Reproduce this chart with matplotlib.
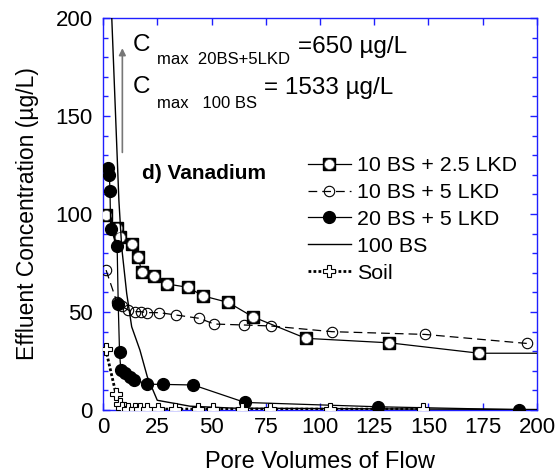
import matplotlib
matplotlib.use('Agg')
import matplotlib.pyplot as plt
from matplotlib.ticker import MultipleLocator

plt.rcParams['font.family'] = ['Liberation Sans', 'DejaVu Sans']

# 10 BS + 2.5 LKD
x_a = [1.4, 6.3, 7.8, 13.2, 16.3, 17.8, 23.5, 29.6, 39.3, 45.9, 57.7, 69, 93.5, 132, 173.4, 200]
y_a = [99.5, 92.7, 88.5, 84.7, 78, 70.3, 68.2, 64.3, 62.6, 58.3, 54.9, 47.6, 36.6, 34.3, 29, 29]
# 10 BS + 5 LKD
x_b = [1.4, 6.3, 8.6, 11.7, 14.7, 17.4, 20.4, 26, 33.6, 44.4, 51.2, 65, 77.3, 105.5, 148.4, 195.3]
y_b = [71.4, 55.3, 53, 51, 50.2, 50.2, 49.7, 49.7, 48.5, 46.8, 43.9, 43.4, 42.9, 40, 38.6, 34]
# 20 BS + 5 LKD
x_c = [2.5, 2.9, 3.2, 3.5, 6.5, 7.0, 7.6, 8.2, 10.1, 12.4, 14.4, 20.3, 27.7, 41.6, 65.4, 126.6, 191.8]
y_c = [123.5, 120, 112, 92.5, 83.5, 54, 29.5, 20.4, 18.7, 17, 15.6, 13.2, 13.1, 12.8, 3.9, 1.7, 0.2]
# 100 BS
x_d = [3.6, 7.3, 8.6, 10.9, 13.2, 17, 20.4, 25, 40, 60, 100, 150, 200]
y_d = [212, 107, 83, 59.5, 42.5, 30.6, 17, 5, 2, 1, 0.8, 0.5, 0.3]
# Soil
x_e = [1.2, 6, 7.8, 8.8, 11.7, 14.7, 17.1, 20.1, 25.5, 33.2, 43.9, 50.8, 63.9, 77, 104.6, 147.6]
y_e = [31.2, 8, 3, 1, 0.6, 0.5, 0.5, 0.5, 0.5, 0.5, 0.5, 0.5, 0.5, 0.5, 0.5, 0.5]

fig = plt.figure(figsize=(5.57, 4.73), dpi=100)
ax = fig.add_axes([0.185, 0.133, 0.779, 0.829])

blue = '#1f1fff'
n_a = len(x_a) - 1  # last point only extends the line

la, = ax.plot(x_a, y_a, '-', color='k', lw=0.9, marker='s', ms=8, mfc='k', mec='k',
              markevery=list(range(n_a)), zorder=3)
la2, = ax.plot(x_a[:n_a], y_a[:n_a], ls='none', marker='o', ms=7.2, mfc='white',
               mec='#555555', mew=0.5, zorder=3.1)
lb, = ax.plot(x_b, y_b, color='k', lw=0.9, dashes=(7, 4), marker='o', ms=7.5, mfc='none',
              mec='k', mew=0.8, zorder=3)
lc, = ax.plot(x_c, y_c, '-', color='k', lw=0.9, marker='o', ms=8.5, mfc='k', mec='k', zorder=4)
ld, = ax.plot(x_d, y_d, '-', color='k', lw=1.0, zorder=4)
le, = ax.plot(x_e, y_e, color='k', lw=2, ls=(0, (1, 0.8)), marker='P', ms=8.5, mfc='white',
              mec='k', mew=0.8, zorder=5)

ax.set_xlim(0, 200)
ax.set_ylim(0, 200)
ax.xaxis.set_major_locator(MultipleLocator(25))
ax.yaxis.set_major_locator(MultipleLocator(50))
ax.yaxis.set_minor_locator(MultipleLocator(10))
ax.tick_params(which='both', direction='in', top=True, right=True, color=blue, labelsize=16)
ax.tick_params(which='major', length=5, width=1)
ax.tick_params(which='minor', length=3.5, width=1)
ax.tick_params(axis='x', pad=5)
ax.tick_params(axis='y', pad=7.5)
for s in ax.spines.values():
    s.set_color(blue)
    s.set_linewidth(1)

ax.set_xlabel('Pore Volumes of Flow', fontsize=17, labelpad=9)
ax.set_ylabel('Effluent Concentration (\u00b5g/L)', fontsize=16.5, labelpad=12)

# annotations
ax.annotate('', xy=(8.9, 186), xytext=(8.9, 130),
            arrowprops=dict(arrowstyle='-|>', color='#777777', lw=1.2, mutation_scale=10))
ax.text(13.8, 186, 'C', fontsize=17.5, va='center', ha='left')
ax.text(24.9, 176.5, 'max  20BS+5LKD', fontsize=12, va='baseline', ha='left')
ax.text(89.9, 185, '=650 \u00b5g/L', fontsize=17.5, va='center', ha='left')
ax.text(13.8, 164.8, 'C', fontsize=17.5, va='center', ha='left')
ax.text(24.9, 154, 'max   100 BS', fontsize=12, va='baseline', ha='left')
ax.text(74.2, 164.3, '= 1533 \u00b5g/L', fontsize=17.5, va='center', ha='left')
ax.text(17.8, 120.6, 'd) Vanadium', fontsize=15, fontweight='bold', va='center', ha='left')

fig.legend([(la, la2), lb, lc, ld, le],
           ['10 BS + 2.5 LKD', '10 BS + 5 LKD', '20 BS + 5 LKD', '100 BS', 'Soil'],
           loc='upper left', bbox_to_anchor=(0.553, 0.670), frameon=False,
           fontsize=15.4, handlelength=2.0, handletextpad=0.3, labelspacing=0.37,
           borderpad=0, borderaxespad=0)

fig.savefig('out.png', dpi=100)
